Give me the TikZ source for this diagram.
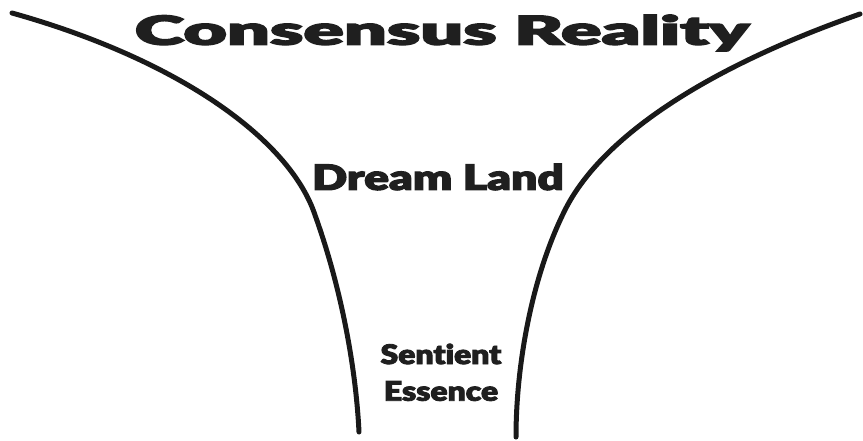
\documentclass[tikz,border=0pt]{standalone}
\usepackage{fontspec}
\newfontfamily\heavy[Ligatures={NoCommon},FakeBold=3]{Lato Black}
\begin{document}
\begin{tikzpicture}[x=1pt,y=-1pt,
  funnel/.style={line width=5pt,line cap=round,black!90},
  lbl/.style={font=\heavy,text=black!88,inner sep=0pt,align=center}]
\useasboundingbox (0,0) rectangle (863,440);
\coordinate (l0) at (12,13);
\coordinate (l1) at (315,215);
\coordinate (l2) at (359,432);
\coordinate (r0) at (860,14);
\coordinate (r1) at (565,210);
\coordinate (r2) at (516,437);
\draw[funnel] (l0) .. controls (180,60) and (290,140) .. (l1) .. controls (342,290) and (356,370) .. (l2);
\draw[funnel] (r0) .. controls (700,70) and (600,140) .. (r1) .. controls (530,280) and (516,370) .. (r2);
\node[lbl] (cr) at (442,33) {\scalebox{1.88}[1]{\fontsize{40}{40}\selectfont Consensus Reality}};
\node[lbl] (dl) at (438,177) {\scalebox{1.32}[1]{\fontsize{35}{35}\selectfont Dream Land}};
\node[lbl] (se) at (441,354) {\scalebox{1.18}[1]{\fontsize{27}{27}\selectfont Sentient}};
\node[lbl] (es) at (441,391) {\scalebox{1.18}[1]{\fontsize{27}{27}\selectfont Essence}};
\end{tikzpicture}
\end{document}
